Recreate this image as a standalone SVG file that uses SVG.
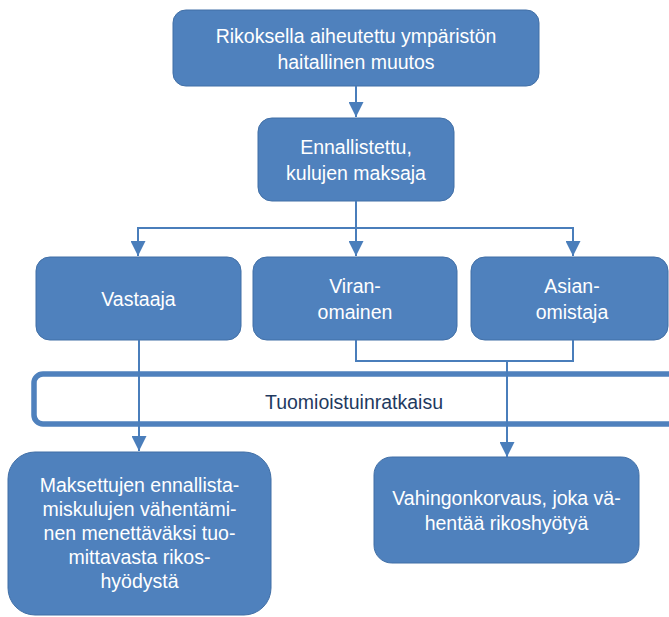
<svg xmlns="http://www.w3.org/2000/svg" width="669" height="617" viewBox="0 0 669 617">
  <defs>
    <style>
      .box { fill: #4F81BD; stroke: #416FA6; stroke-width: 1; }
      .lbl { fill: #FFFFFF; font-family: "Liberation Sans", Arial, sans-serif; font-size: 19.5px; text-anchor: middle; }
      .bar { fill: none; stroke: #4F81BD; stroke-width: 5.5; }
      .barlbl { fill: #1F3A60; font-family: "Liberation Sans", Arial, sans-serif; font-size: 19.5px; text-anchor: middle; }
      .wire { fill: none; stroke: #4A7EBB; stroke-width: 2; }
      .head { fill: #4A7EBB; }
    </style>
    <marker id="arrow" viewBox="0 0 15 15" refX="15" refY="7.5" markerWidth="15" markerHeight="15" markerUnits="userSpaceOnUse" orient="auto">
      <path class="head" d="M0,0 L15,7.5 L0,15 Z"/>
    </marker>
  </defs>

  <rect width="669" height="617" fill="#FFFFFF"/>

  <!-- top: cause -->
  <g id="node-muutos">
    <rect class="box" x="173" y="10" width="366" height="76" rx="12.7"/>
    <text class="lbl" x="356" y="43">Rikoksella aiheutettu ympäristön</text>
    <text class="lbl" x="356" y="69">haitallinen muutos</text>
  </g>

  <g id="node-maksaja">
    <rect class="box" x="258" y="118" width="196" height="83" rx="13.8"/>
    <text class="lbl" x="356" y="154">Ennallistettu,</text>
    <text class="lbl" x="356" y="180">kulujen maksaja</text>
  </g>

  <g id="node-vastaaja">
    <rect class="box" x="36" y="257" width="205" height="83" rx="13.8"/>
    <text class="lbl" x="138.5" y="306">Vastaaja</text>
  </g>

  <g id="node-viranomainen">
    <rect class="box" x="253" y="257" width="204" height="83" rx="13.8"/>
    <text class="lbl" x="355" y="293">Viran-</text>
    <text class="lbl" x="355" y="319">omainen</text>
  </g>

  <g id="node-asianomistaja">
    <rect class="box" x="471" y="257" width="197" height="83" rx="13.8"/>
    <text class="lbl" x="572" y="293">Asian-</text>
    <text class="lbl" x="572" y="319">omistaja</text>
  </g>

  <!-- court decision band, runs off the right edge -->
  <g id="node-tuomioistuinratkaisu">
    <rect class="bar" x="34" y="374" width="700" height="50" rx="9"/>
    <text class="barlbl" x="354" y="409">Tuomioistuinratkaisu</text>
  </g>

  <g id="node-vahennys">
    <rect class="box" x="8" y="452" width="263" height="163" rx="27"/>
    <text class="lbl" x="139.5" y="492">Maksettujen ennallista-</text>
    <text class="lbl" x="139.5" y="516">miskulujen vähentämi-</text>
    <text class="lbl" x="139.5" y="540">nen menettäväksi tuo-</text>
    <text class="lbl" x="139.5" y="564">mittavasta rikos-</text>
    <text class="lbl" x="139.5" y="588">hyödystä</text>
  </g>

  <g id="node-vahingonkorvaus">
    <rect class="box" x="374" y="457" width="265" height="106" rx="17.7"/>
    <text class="lbl" x="506.5" y="505">Vahingonkorvaus, joka vä-</text>
    <text class="lbl" x="506.5" y="530">hentää rikoshyötyä</text>
  </g>

  <g id="connectors">
    <path class="wire" d="M356,86 V117" marker-end="url(#arrow)"/>
    <path class="wire" d="M356,201 V256" marker-end="url(#arrow)"/>
    <path class="wire" d="M356,228 H138 V256" marker-end="url(#arrow)"/>
    <path class="wire" d="M356,228 H573 V256" marker-end="url(#arrow)"/>
    <path class="wire" d="M139,340 V451" marker-end="url(#arrow)"/>
    <path class="wire" d="M356,340 V361 H573 V340"/>
    <path class="wire" d="M507,361 V457" marker-end="url(#arrow)"/>
  </g>
</svg>
